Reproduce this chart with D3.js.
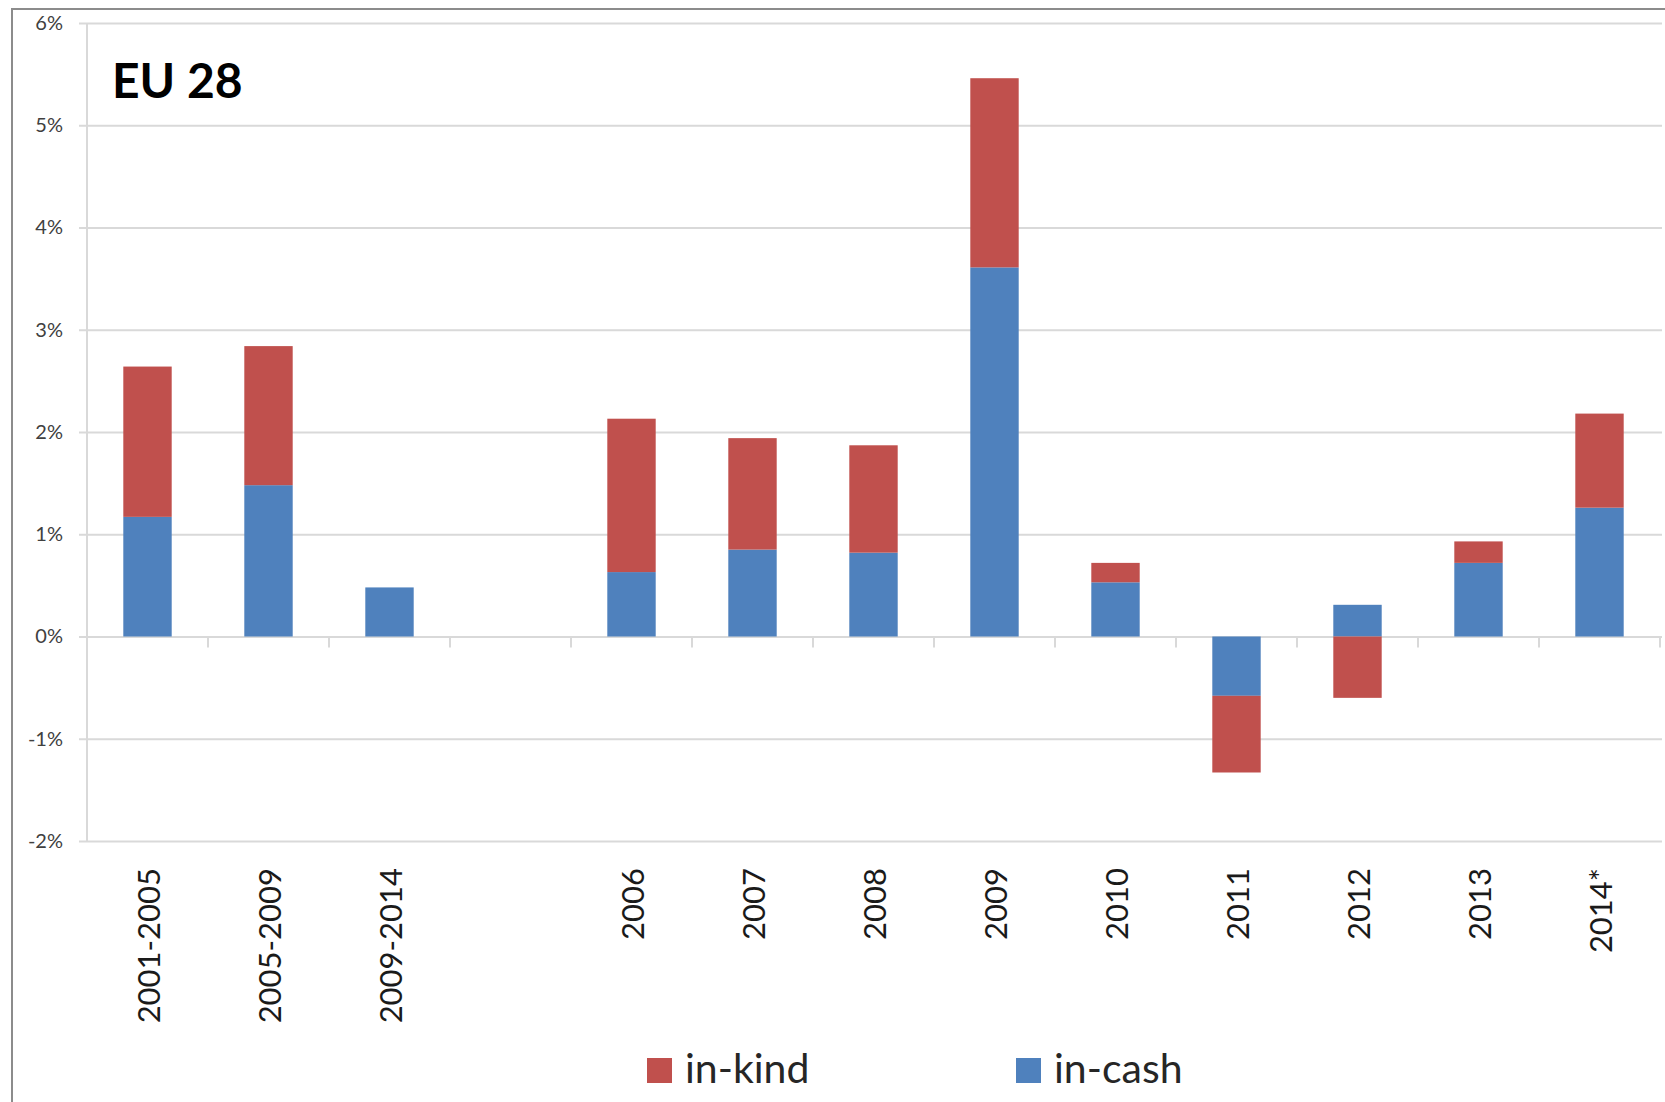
<!DOCTYPE html>
<html>
<head>
<meta charset="utf-8">
<script src="https://cdn.jsdelivr.net/npm/d3@7"></script>
<style>
  body { margin: 0; background: #fff; }
  svg { display: block; font-family: Lato, "Open Sans", sans-serif; }
</style>
</head>
<body>
<svg id="chart" width="1665" height="1102"></svg>
<script>
// categories along the x axis (the empty one is the gap between periods and years)
var categories = ["2001-2005", "2005-2009", "2009-2014", "", "2006", "2007", "2008", "2009", "2010", "2011", "2012", "2013", "2014*"];

// values in %
var inCash = [1.17, 1.48, 0.48, 0, 0.63, 0.85, 0.82, 3.61, 0.53, -0.58, 0.31, 0.72, 1.26];
var inKind = [1.47, 1.36, 0, 0, 1.50, 1.09, 1.05, 1.85, 0.19, -0.75, -0.60, 0.21, 0.92];

var yTicks = [-2, -1, 0, 1, 2, 3, 4, 5, 6];
var seriesKeys = ["inCash", "inKind"];
var seriesLabels = { inKind: "in-kind", inCash: "in-cash" };
var seriesColors = { inKind: "#C0504D", inCash: "#4F81BD" };
var legendOrder = ["inKind", "inCash"];

var svg = d3.select("#chart");

var plot = { left: 87, right: 1660, top: 23, bottom: 841 };

// outer chart border
svg.append("rect")
  .attr("x", 12).attr("y", 9)
  .attr("width", 1700).attr("height", 1120)
  .attr("fill", "none")
  .attr("stroke", "#8c8c8c")
  .attr("stroke-width", 2);

var x = d3.scaleBand()
  .domain(categories)
  .range([plot.left, plot.right])
  .paddingInner(0.6)
  .paddingOuter(0.3);

var y = d3.scaleLinear()
  .domain([-2, 6])
  .range([plot.bottom, plot.top]);

// gridlines + labels
var yAxis = svg.append("g")
  .attr("transform", "translate(79,0)")
  .call(d3.axisLeft(y)
    .tickValues(yTicks)
    .tickSize(-(plot.right - 79 + 2))
    .tickPadding(16)
    .tickFormat(function(d) { return d + "%"; }));

yAxis.attr("font-family", null).attr("font-size", null);
yAxis.select(".domain").remove();
yAxis.selectAll(".tick line")
  .attr("stroke", "#d9d9d9")
  .attr("stroke-width", 2);
yAxis.selectAll(".tick text")
  .attr("fill", "#404040")
  .attr("font-size", 20);

// vertical axis line
svg.append("line")
  .attr("x1", plot.left).attr("x2", plot.left)
  .attr("y1", plot.top).attr("y2", plot.bottom)
  .attr("stroke", "#d9d9d9")
  .attr("stroke-width", 2);

// category separator ticks on the zero line
svg.append("g")
  .selectAll("line")
  .data(categories)
  .enter()
  .append("line")
  .attr("x1", function(d) { return x(d) + x.bandwidth() / 2 + x.step() / 2; })
  .attr("x2", function(d) { return x(d) + x.bandwidth() / 2 + x.step() / 2; })
  .attr("y1", y(0))
  .attr("y2", y(0) + 11)
  .attr("stroke", "#d9d9d9")
  .attr("stroke-width", 2);

// stacked bars
var rows = categories.map(function(c, i) {
  return { cat: c, inCash: inCash[i], inKind: inKind[i] };
});

var stacked = d3.stack()
  .keys(seriesKeys)
  .offset(d3.stackOffsetDiverging)(rows);

svg.append("g")
  .selectAll("g")
  .data(stacked)
  .enter()
  .append("g")
  .attr("fill", function(s) { return seriesColors[s.key]; })
  .selectAll("rect")
  .data(function(s) { return s; })
  .enter()
  .append("rect")
  .attr("x", function(d) { return x(d.data.cat); })
  .attr("width", x.bandwidth())
  .attr("y", function(d) { return y(Math.max(d[0], d[1])); })
  .attr("height", function(d) { return Math.abs(y(d[0]) - y(d[1])); });

// rotated category labels under the plot
svg.append("g")
  .selectAll("text")
  .data(categories)
  .enter()
  .append("text")
  .attr("transform", function(d) {
    return "translate(" + (x(d) + x.bandwidth() / 2) + "," + (plot.bottom + 27) + ") rotate(-90)";
  })
  .attr("text-anchor", "end")
  .attr("dominant-baseline", "central")
  .attr("font-size", 31)
  .attr("fill", "#1a1a1a")
  .text(function(d) { return d; });

// title
svg.append("text")
  .attr("x", 112)
  .attr("y", 98)
  .attr("font-size", 48)
  .attr("font-weight", "bold")
  .attr("fill", "#000")
  .text("EU 28");

// legend
var legendX = { inKind: 647, inCash: 1016 };
var legend = svg.append("g")
  .selectAll("g")
  .data(legendOrder)
  .enter()
  .append("g")
  .attr("transform", function(d) { return "translate(" + legendX[d] + ",1058)"; });

legend.append("rect")
  .attr("width", 25)
  .attr("height", 25)
  .attr("fill", function(d) { return seriesColors[d]; });

legend.append("text")
  .attr("x", 38)
  .attr("y", 25)
  .attr("font-size", 41)
  .attr("fill", "#262626")
  .text(function(d) { return seriesLabels[d]; });
</script>
</body>
</html>
